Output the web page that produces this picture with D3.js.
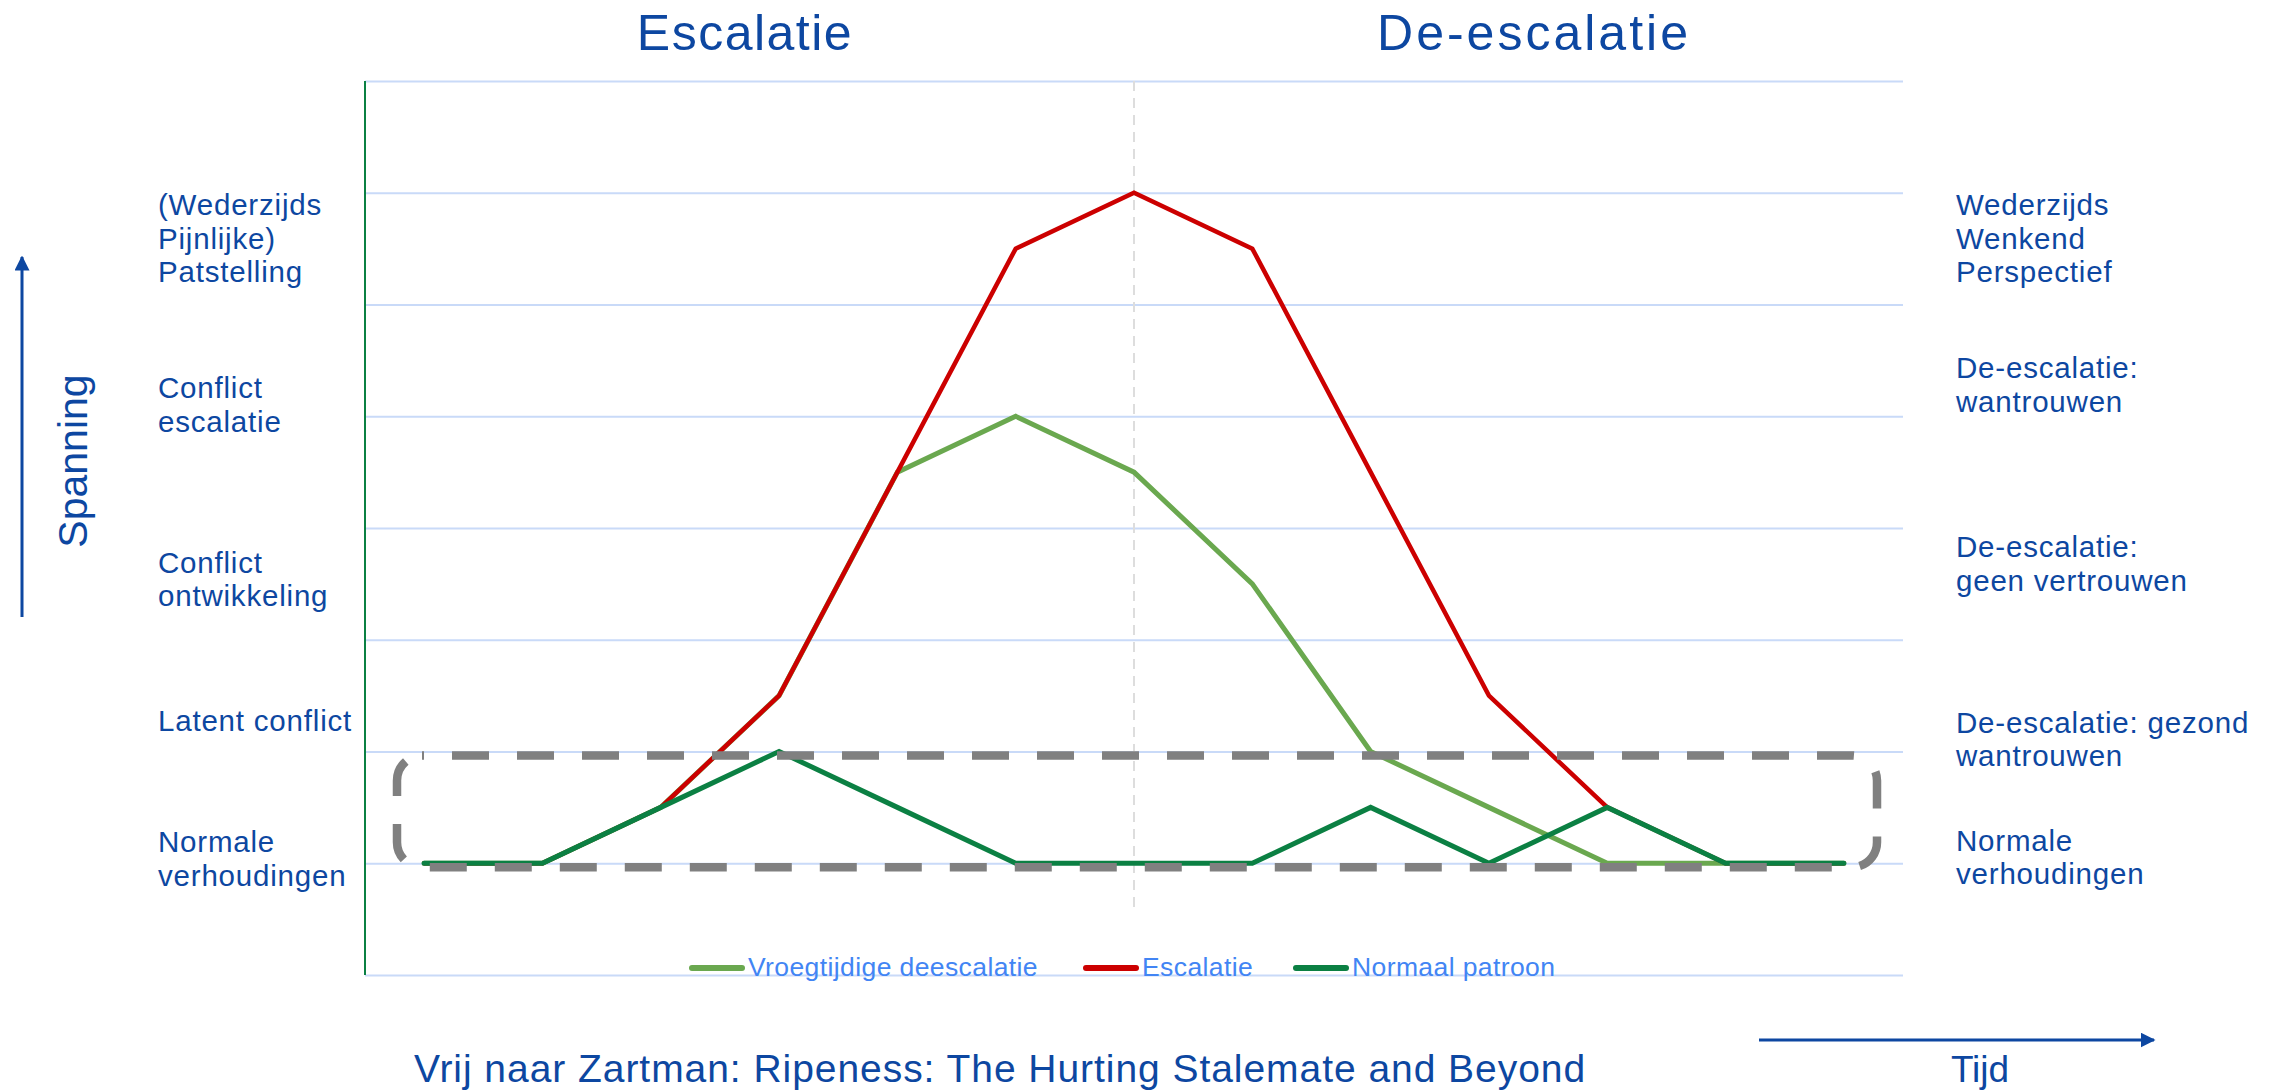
<!DOCTYPE html>
<html>
<head>
<meta charset="utf-8">
<script src="https://cdn.jsdelivr.net/npm/d3@7"></script>
<style>
  body { margin: 0; background: #fff; }
  text { font-family: "Liberation Sans", Arial, sans-serif; }
</style>
</head>
<body>
<div id="chart"></div>
<script>
// time points (unlabelled on the chart)
var timePoints = [1, 2, 3, 4, 5, 6, 7, 8, 9, 10, 11, 12, 13];

// tension level per time point
var vroegtijdig = [1, 1, 1.5, 2.5, 4.5, 5, 4.5, 3.5, 2, 1.5, 1, 1, 1];
var escalatie   = [1, 1, 1.5, 2.5, 4.5, 6.5, 7, 6.5, 4.5, 2.5, 1.5, 1, 1];
var normaal     = [1, 1, 1.5, 2, 1.5, 1, 1, 1, 1.5, 1, 1.5, 1, 1];

var seriesNames = ["Vroegtijdige deescalatie", "Escalatie", "Normaal patroon"];
var gridTicks = [0, 1, 2, 3, 4, 5, 6, 7, 8];

// stage labels left and right, with the level of their first baseline
var leftLabels = [
  { lines: ["(Wederzijds", "Pijnlijke)", "Patstelling"], level: 6.80 },
  { lines: ["Conflict", "escalatie"], level: 5.16 },
  { lines: ["Conflict", "ontwikkeling"], level: 3.60 },
  { lines: ["Latent conflict"], level: 2.18 },
  { lines: ["Normale", "verhoudingen"], level: 1.10 }
];
var rightLabels = [
  { lines: ["Wederzijds", "Wenkend", "Perspectief"], level: 6.80 },
  { lines: ["De-escalatie:", "wantrouwen"], level: 5.34 },
  { lines: ["De-escalatie:", "geen vertrouwen"], level: 3.74 },
  { lines: ["De-escalatie: gezond", "wantrouwen"], level: 2.17 },
  { lines: ["Normale", "verhoudingen"], level: 1.11 }
];

var width = 2273,
    height = 1092;

var margin = { left: 365, right: 370, top: 81, bottom: 117 };

var svg = d3.select("#chart")
  .append("svg")
  .attr("width", width)
  .attr("height", height);

var x = d3.scaleBand()
  .domain(timePoints)
  .range([margin.left, width - margin.right]);

var y = d3.scaleLinear()
  .domain([0, 8])
  .range([height - margin.bottom, margin.top]);

function cx(d) { return x(d) + x.bandwidth() / 2; }

var textBlue = "#0d47a1";

// horizontal gridlines
var grid = svg.append("g")
  .attr("transform", "translate(" + margin.left + ",0)")
  .call(d3.axisRight(y)
    .tickValues(gridTicks)
    .tickSize(width - margin.left - margin.right)
    .tickFormat(""));
grid.select(".domain").remove();
grid.selectAll("line")
  .attr("stroke", "#c9daf8")
  .attr("stroke-width", 2);

// dashed divider between escalation and de-escalation
svg.append("line")
  .attr("x1", cx(7)).attr("x2", cx(7))
  .attr("y1", y(8)).attr("y2", y(0.58))
  .attr("stroke", "#dddddd")
  .attr("stroke-width", 2)
  .attr("stroke-dasharray", "10 7");

// y axis line
svg.append("line")
  .attr("x1", margin.left).attr("x2", margin.left)
  .attr("y1", y(8)).attr("y2", y(0))
  .attr("stroke", "#0b8043")
  .attr("stroke-width", 2);

// the three lines
var colors = ["#6aa84f", "#cc0000", "#0b8043"];
var allSeries = [vroegtijdig, escalatie, normaal];

var line = d3.line()
  .x(function(d, i) { return cx(timePoints[i]); })
  .y(function(d) { return y(d); });

allSeries.forEach(function(values, k) {
  svg.append("path")
    .datum(values)
    .attr("d", line)
    .attr("fill", "none")
    .attr("stroke", colors[k])
    .attr("stroke-width", k == 1 ? 4.5 : 5)
    .attr("stroke-linecap", "round");
});

// dashed rounded box round the normal zone
svg.append("rect")
  .attr("x", 397)
  .attr("y", y(2) + 4)
  .attr("width", 1480)
  .attr("height", y(1) - y(2))
  .attr("rx", 25)
  .attr("fill", "none")
  .attr("stroke", "#808080")
  .attr("stroke-width", 8.5)
  .attr("stroke-dasharray", "37 28")
  .attr("stroke-dashoffset", 35);

// legend
var legendX = [689, 1083, 1293];
var legend = svg.selectAll(".legend")
  .data(seriesNames)
  .enter().append("g")
  .attr("class", "legend")
  .attr("transform", function(d, i) {
    return "translate(" + legendX[i] + "," + 968 + ")";
  });
legend.append("line")
  .attr("x1", 3).attr("x2", 53)
  .attr("stroke", function(d, i) { return colors[i]; })
  .attr("stroke-width", 6)
  .attr("stroke-linecap", "round");
legend.append("text")
  .attr("x", 59)
  .attr("y", 8)
  .attr("fill", "#4285f4")
  .style("font-size", "26.5px")
  .style("letter-spacing", "0.4px")
  .text(function(d) { return d; });

// stage labels
function drawLabels(labels, xPos) {
  labels.forEach(function(lab) {
    var t = svg.append("text")
      .attr("x", xPos)
      .attr("y", y(lab.level))
      .attr("fill", textBlue)
      .style("font-size", "29.5px")
      .style("letter-spacing", "0.8px");
    t.selectAll("tspan")
      .data(lab.lines)
      .enter().append("tspan")
      .attr("x", xPos)
      .attr("dy", function(d, i) { return i == 0 ? 0 : 33.5; })
      .text(function(d) { return d; });
  });
}
drawLabels(leftLabels, 158);
drawLabels(rightLabels, 1956);

// section titles
svg.append("text")
  .attr("x", 745).attr("y", 50)
  .attr("text-anchor", "middle")
  .attr("fill", textBlue)
  .style("font-size", "50px")
  .style("letter-spacing", "1.5px")
  .text("Escalatie");
svg.append("text")
  .attr("x", 1534).attr("y", 50)
  .attr("text-anchor", "middle")
  .attr("fill", textBlue)
  .style("font-size", "50px")
  .style("letter-spacing", "3px")
  .text("De-escalatie");

// vertical axis title with arrow
svg.append("text")
  .attr("transform", "translate(87,461) rotate(-90)")
  .attr("text-anchor", "middle")
  .attr("fill", textBlue)
  .style("font-size", "41px")
  .text("Spanning");

var defs = svg.append("defs");
defs.append("marker")
  .attr("id", "arrow")
  .attr("viewBox", "0 0 10 10")
  .attr("refX", 9).attr("refY", 5)
  .attr("markerWidth", 5).attr("markerHeight", 5)
  .attr("orient", "auto")
  .append("path")
  .attr("d", "M0,0 L10,5 L0,10 z")
  .attr("fill", textBlue);

svg.append("line")
  .attr("x1", 22).attr("x2", 22)
  .attr("y1", 617).attr("y2", 257)
  .attr("stroke", textBlue)
  .attr("stroke-width", 3)
  .attr("marker-end", "url(#arrow)");

svg.append("line")
  .attr("x1", 1759).attr("x2", 2154)
  .attr("y1", 1040).attr("y2", 1040)
  .attr("stroke", textBlue)
  .attr("stroke-width", 3)
  .attr("marker-end", "url(#arrow)");

// source and time label
svg.append("text")
  .attr("x", 1000).attr("y", 1082)
  .attr("text-anchor", "middle")
  .attr("fill", textBlue)
  .style("font-size", "39px")
  .style("letter-spacing", "0.95px")
  .text("Vrij naar Zartman: Ripeness: The Hurting Stalemate and Beyond");

svg.append("text")
  .attr("x", 1980).attr("y", 1082)
  .attr("text-anchor", "middle")
  .attr("fill", textBlue)
  .style("font-size", "37px")
  .text("Tijd");
</script>
</body>
</html>
